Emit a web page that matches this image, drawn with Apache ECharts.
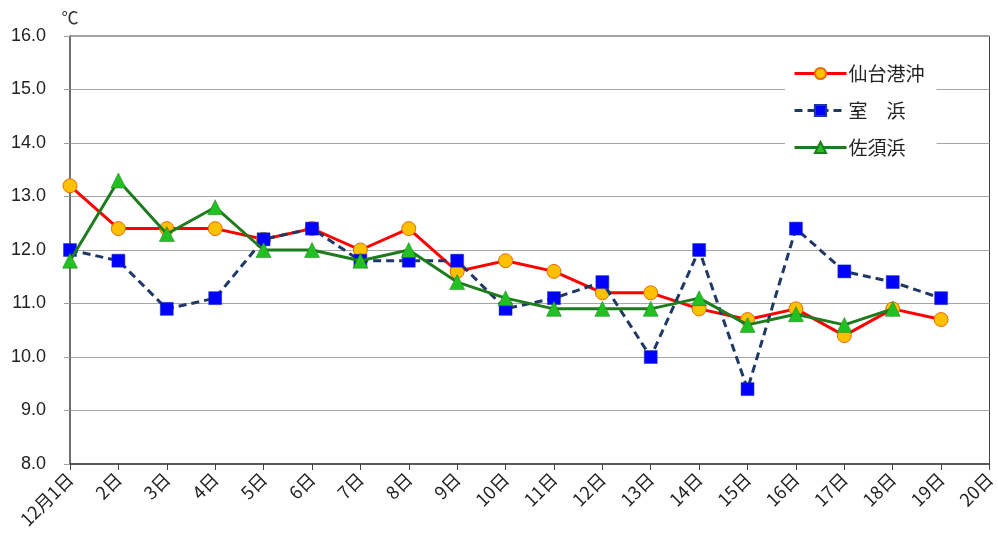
<!DOCTYPE html>
<html>
<head>
<meta charset="utf-8">
<script src="https://cdn.jsdelivr.net/npm/echarts@6/dist/echarts.min.js"></script>
<style>
html,body{margin:0;padding:0;background:#fff;}
#c{width:998px;height:537px;}
</style>
</head>
<body>
<div id="c"></div>
<script>
const categories = ['12月1日','2日','3日','4日','5日','6日','7日','8日','9日','10日','11日','12日','13日','14日','15日','16日','17日','18日','19日','20日'];
const sendai = [13.2,12.4,12.4,12.4,12.2,12.4,12.0,12.4,11.6,11.8,11.6,11.2,11.2,10.9,10.7,10.9,10.4,10.9,10.7,null];
const murohama = [12.0,11.8,10.9,11.1,12.2,12.4,11.8,11.8,11.8,10.9,11.1,11.4,10.0,12.0,9.4,12.4,11.6,11.4,11.1,null];
const sasuhama = [11.8,13.3,12.3,12.8,12.0,12.0,11.8,12.0,11.4,11.1,10.9,10.9,10.9,11.1,10.6,10.8,10.6,10.9,null,null];
const seriesNames = ['仙台港沖','室\u3000浜','佐須浜'];

const FONT = '"Noto Sans CJK JP", "Noto Sans", sans-serif';
const chart = echarts.init(document.getElementById('c'));
chart.setOption({
  animation: false,
  backgroundColor: '#fff',
  textStyle: { fontFamily: FONT },
  grid: { left: 70, right: 3, top: 36, bottom: 73, show: true, borderColor: '#404040', borderWidth: 1, containLabel: false },
  legend: {
    orient: 'vertical',
    left: 785,
    top: 58,
    itemWidth: 52,
    itemHeight: 14,
    itemGap: 18,
    padding: [6, 12, 6, 8],
    backgroundColor: '#fff',
    lineStyle: { width: 3 },
    textStyle: { fontSize: 19, color: '#222', fontFamily: FONT, padding: [0, 0, 0, -3] },
    data: seriesNames
  },
  xAxis: {
    type: 'category',
    data: categories,
    boundaryGap: false,
    axisLine: { lineStyle: { color: '#404040', width: 1.5 } },
    axisTick: { show: true, alignWithLabel: true, length: 6, lineStyle: { color: '#404040' } },
    axisLabel: { rotate: 45, fontSize: 18, color: '#222', margin: 12, interval: 0, fontFamily: FONT },
    splitLine: { show: false }
  },
  yAxis: {
    type: 'value',
    min: 8,
    max: 16,
    interval: 1,
    name: '℃',
    nameLocation: 'end',
    nameGap: 10,
    nameTextStyle: { fontSize: 17, color: '#333', align: 'center', padding: [0, 0, 0, 0] },
    axisLine: { show: true, lineStyle: { color: '#606060', width: 1.5 } },
    axisTick: { show: true, length: 6, lineStyle: { color: '#a0a0a0' } },
    axisLabel: { fontSize: 18, color: '#222', margin: 24, formatter: v => v.toFixed(1), fontFamily: '"Liberation Sans", "Noto Sans", sans-serif' },
    splitLine: { show: true, lineStyle: { color: '#a6a6a6', width: 1.2 } }
  },
  series: [
    {
      name: seriesNames[0], type: 'line', data: sendai, z: 2,
      symbol: 'circle', symbolSize: 14,
      lineStyle: { color: '#ff0000', width: 3 },
      itemStyle: { color: '#ffc000', borderColor: '#e46c0a', borderWidth: 1 }
    },
    {
      name: seriesNames[1], type: 'line', data: murohama, z: 3,
      symbol: 'rect', symbolSize: 13,
      lineStyle: { color: '#1f3864', width: 3, type: [8, 5] },
      itemStyle: { color: '#0000ff', borderColor: '#1f3a9a', borderWidth: 0.5 }
    },
    {
      name: seriesNames[2], type: 'line', data: sasuhama, z: 4,
      symbol: 'triangle', symbolSize: 15,
      lineStyle: { color: '#1e7b1e', width: 3 },
      itemStyle: { color: '#22c022', borderColor: '#1e7b1e', borderWidth: 0.5 }
    }
  ]
});
</script>
</body>
</html>
